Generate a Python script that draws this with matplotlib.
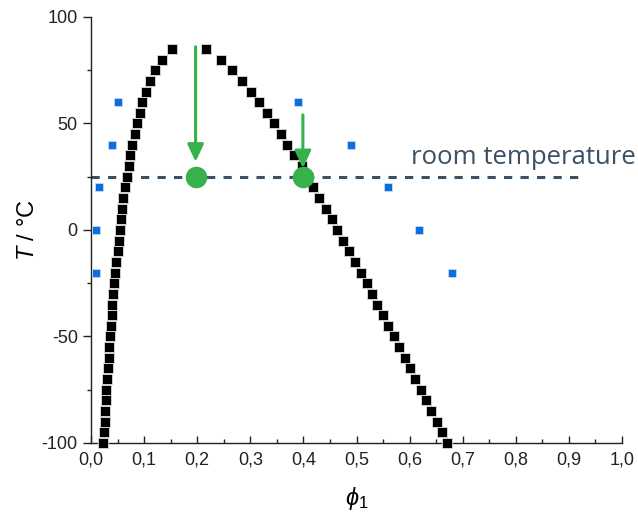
import matplotlib.pyplot as plt
from matplotlib.ticker import MultipleLocator, FuncFormatter

plt.rcParams['font.family'] = ['Liberation Sans', 'DejaVu Sans']
plt.rcParams['axes.unicode_minus'] = False
plt.rcParams['mathtext.fontset'] = 'custom'
plt.rcParams['mathtext.it'] = 'Liberation Sans:italic'
plt.rcParams['mathtext.rm'] = 'Liberation Sans'

# binodal points (black squares), one temperature grid for both branches
temps = [-100, -95, -90, -85, -80, -75, -70, -65, -60, -55, -50, -45, -40, -35,
         -30, -25, -20, -15, -10, -5, 0, 5, 10, 15, 20, 25, 30, 35, 40, 45,
         50, 55, 60, 65, 70, 75, 80, 85]
phi_left = [0.023, 0.024, 0.026, 0.027, 0.028, 0.029, 0.031, 0.032, 0.033, 0.034,
            0.036, 0.037, 0.039, 0.040, 0.042, 0.044, 0.046, 0.048, 0.050, 0.052,
            0.054, 0.056, 0.059, 0.061, 0.064, 0.068, 0.071, 0.074, 0.078, 0.082,
            0.087, 0.092, 0.097, 0.104, 0.111, 0.121, 0.133, 0.153]
phi_right = [0.670, 0.661, 0.651, 0.641, 0.631, 0.621, 0.611, 0.601, 0.591, 0.580,
             0.570, 0.560, 0.550, 0.539, 0.529, 0.519, 0.508, 0.498, 0.486, 0.475,
             0.464, 0.453, 0.442, 0.430, 0.418, 0.409, 0.397, 0.383, 0.370, 0.357,
             0.344, 0.331, 0.316, 0.301, 0.284, 0.266, 0.245, 0.216]

# blue measured points
blue_phi = [0.009, 0.009, 0.015, 0.040, 0.050, 0.389, 0.489, 0.559, 0.618, 0.679]
blue_T = [-20, 0, 20, 40, 60, 60, 40, 20, 0, -20]

# green markers at room temperature and the arrows pointing at them
room_T = 25
green_phi = [0.197, 0.399]
arrow_start = [86, 54]
arrow_end = [32, 29]

x_ticks = [0.0, 0.1, 0.2, 0.3, 0.4, 0.5, 0.6, 0.7, 0.8, 0.9, 1.0]
y_ticks = [-100, -50, 0, 50, 100]

green = '#36b14c'
slate = '#3b5064'

fig = plt.figure(figsize=(6.38, 5.18), dpi=100)
ax = fig.add_axes([0.1426, 0.1448, 0.8324, 0.8224])

# room temperature line
ax.plot([0, 0.93], [room_T, room_T], color=slate, lw=2.2,
        dashes=(2.7, 2.7), zorder=2)
ax.text(1.026, room_T + 3, 'room temperature', color=slate, fontsize=18.5,
        family='Open Sans', ha='right', va='bottom', clip_on=False)

ax.plot(phi_left, temps, 's', color='black', ms=7, mec='#dddddd', mew=0.6,
        clip_on=False, zorder=3)
ax.plot(phi_right, temps, 's', color='black', ms=7, mec='#dddddd', mew=0.6,
        clip_on=False, zorder=3)
ax.plot(blue_phi, blue_T, 's', color='#0a6fdc', ms=6.2, mec='#cfe3fb', mew=0.5,
        zorder=3)

for x, y0, y1 in zip(green_phi, arrow_start, arrow_end):
    ax.annotate('', xy=(x, y1), xytext=(x, y0),
                arrowprops=dict(arrowstyle='-|>,head_length=0.75,head_width=0.35',
                                mutation_scale=14, color=green, lw=2.2,
                                shrinkA=0, shrinkB=0), zorder=4)
ax.plot(green_phi, [room_T] * len(green_phi), 'o', color=green, ms=14.5,
        mec=green, zorder=5)

ax.set_xlim(0, 1)
ax.set_ylim(-100, 100)
ax.set_xticks(x_ticks)
ax.set_yticks(y_ticks)
ax.xaxis.set_major_formatter(FuncFormatter(lambda v, p: f'{v:.1f}'.replace('.', ',')))
ax.xaxis.set_minor_locator(MultipleLocator(0.05))
ax.yaxis.set_minor_locator(MultipleLocator(25))

ax.spines['top'].set_visible(False)
ax.spines['right'].set_visible(False)
for s in ['left', 'bottom']:
    ax.spines[s].set_color('#222222')
    ax.spines[s].set_linewidth(1.0)

ax.tick_params(axis='x', which='major', direction='in', length=5, width=1,
               labelsize=13, pad=6, color='#222222', labelcolor='#222222')
ax.tick_params(axis='x', which='minor', direction='in', length=3, width=1,
               color='#222222')
ax.tick_params(axis='y', which='major', direction='out', length=6, width=1,
               labelsize=13, color='#222222', labelcolor='#222222')
ax.tick_params(axis='y', which='minor', direction='out', length=3, width=1,
               color='#222222')

ax.set_ylabel('$T$ / °C', fontsize=17, labelpad=2)
ax.set_xlabel(r'$\phi_1$', fontsize=17, labelpad=12)

fig.savefig('out.png', dpi=100)
